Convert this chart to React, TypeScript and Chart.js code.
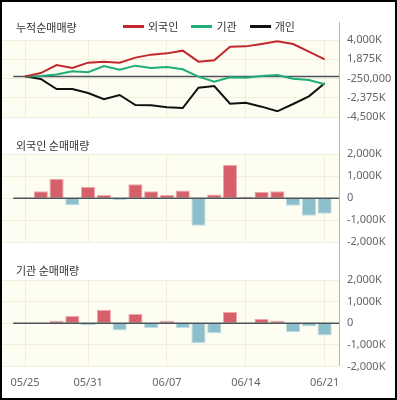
import React, { useEffect, useRef } from 'react';
import { Chart, registerables } from 'chart.js';

Chart.register(...registerables);

// ---------- data ----------
const dates = [
  '05/25', '05/26', '05/29', '05/30', '05/31', '06/01', '06/02', '06/05', '06/06', '06/07',
  '06/08', '06/09', '06/12', '06/13', '06/14', '06/15', '06/16', '06/19', '06/20', '06/21',
];
const tickDates = ['05/25', '05/31', '06/07', '06/14', '06/21'];

const seriesNames = ['외국인', '기관', '개인'];
const seriesColors = ['#c1272d', '#1fae78', '#111111'];

// cumulative net buying volume
const foreignCum = [
  0, 360000, 1250000, 920000, 1510000, 1620000, 1510000, 2060000, 2390000, 2530000,
  2830000, 1620000, 1770000, 3270000, 3300000, 3560000, 3850000, 3560000, 2720000, 1870000,
];
const instCum = [
  0, 50000, 200000, 570000, 460000, 1140000, 740000, 1180000, 920000, 1030000,
  780000, -30000, -580000, -100000, -140000, 40000, 150000, -250000, -400000, -870000,
];
const indivCum = [
  0, -290000, -1390000, -1390000, -1830000, -2520000, -2050000, -3150000, -3180000, -3400000,
  -3480000, -1240000, -1060000, -3000000, -2890000, -3330000, -3840000, -3040000, -2190000, -760000,
];

// daily net buying volume
const foreignNet = [
  0, 320000, 890000, -320000, 520000, 140000, -90000, 630000, 320000, 140000,
  350000, -1260000, 170000, 1510000, 60000, 290000, 320000, -350000, -800000, -710000,
];
const instNet = [
  0, 30000, 110000, 340000, -90000, 620000, -340000, 430000, -230000, 110000,
  -220000, -920000, -460000, 520000, 0, 200000, 110000, -400000, -150000, -570000,
];

const cumTicks = [4000000, 1875000, -250000, -2375000, -4500000];
const netTicks = [2000000, 1000000, 0, -1000000, -2000000];

const panelTitles = ['누적순매매량', '외국인 순매매량', '기관 순매매량'];

// ---------- styles ----------
const BG = '#fdfdf2';
const GRID = '#efefdc';
const ZERO = '#4d555a';
const POS_FILL = '#d6606a';
const POS_BORDER = '#f0a6ab';
const NEG_FILL = '#8dbfca';
const NEG_BORDER = '#bcdde4';
const TICK_COLOR = '#666';
const TICK_FONT = { family: '"Noto Sans", "Noto Sans CJK KR", sans-serif', size: 11 };
const KFONT = '"Noto Sans CJK KR", "Noto Sans", sans-serif';

const X_MIN = -1.46;
const X_MAX = 19.91;

const fmt = (v: number) =>
  Math.abs(v) >= 1000000
    ? (v / 1000).toLocaleString('en-US') + 'K'
    : v.toLocaleString('en-US');

function drawZero(chart: any) {
  const { ctx, chartArea: a, scales } = chart;
  const y = scales.y.getPixelForValue(0);
  const x0 = scales.x.getPixelForValue(-0.75);
  ctx.save();
  ctx.strokeStyle = ZERO;
  ctx.lineWidth = 1.5;
  ctx.beginPath();
  ctx.moveTo(x0, y);
  ctx.lineTo(a.right, y);
  ctx.stroke();
  ctx.restore();
}

const panelPlugin = {
  id: 'panel',
  beforeDraw(chart: any) {
    const { ctx, chartArea: a } = chart;
    ctx.save();
    ctx.fillStyle = BG;
    ctx.fillRect(a.left, a.top, a.right - a.left, a.bottom - a.top);
    ctx.restore();
  },
  beforeDatasetsDraw(chart: any, _args: any, opts: any) {
    if (!opts.zeroAbove) drawZero(chart);
  },
  afterDatasetsDraw(chart: any, _args: any, opts: any) {
    if (opts.zeroAbove) drawZero(chart);
  },
};

function makeOptions(yTicks: number[], showX: boolean, padTop: number, padBottom: number, zeroAbove: boolean) {
  const tickIdx = tickDates.map((d) => dates.indexOf(d));
  return {
    responsive: false,
    animation: false,
    devicePixelRatio: 1,
    layout: { padding: { left: 2, right: 0, top: padTop, bottom: padBottom } },
    plugins: {
      legend: { display: false },
      tooltip: { enabled: false },
      panel: { zeroAbove },
    },
    scales: {
      x: {
        type: 'linear',
        offset: false,
        min: X_MIN,
        max: X_MAX,
        grid: { color: GRID, drawTicks: false, offset: false },
        border: { display: false },
        afterBuildTicks: (s: any) => {
          s.ticks = tickIdx.map((v) => ({ value: v }));
        },
        ticks: {
          display: showX,
          padding: 10,
          color: TICK_COLOR,
          font: TICK_FONT,
          maxRotation: 0,
          autoSkip: false,
          callback: (v: any) => dates[v] ?? '',
        },
        afterFit: (s: any) => {
          s.height = showX ? 33.5 : 0;
          s.paddingLeft = 0;
          s.paddingRight = 0;
        },
      },
      y: {
        position: 'right',
        min: Math.min(...yTicks),
        max: Math.max(...yTicks),
        afterBuildTicks: (s: any) => {
          s.ticks = yTicks.map((v) => ({ value: v }));
        },
        grid: { color: GRID, drawTicks: false },
        border: { display: false },
        ticks: {
          padding: 8,
          color: TICK_COLOR,
          font: TICK_FONT,
          callback: (v: any) => fmt(Number(v)),
        },
        afterFit: (s: any) => {
          s.width = 58;
          s.paddingTop = 0;
          s.paddingBottom = 0;
        },
      },
    },
  } as any;
}

function barDataset(values: number[]) {
  return {
    data: values.map((v, i) => ({ x: i, y: v })),
    backgroundColor: values.map((v) => (v >= 0 ? POS_FILL : NEG_FILL)),
    borderColor: values.map((v) => (v >= 0 ? POS_BORDER : NEG_BORDER)),
    borderWidth: 1,
    borderSkipped: 'start',
    barPercentage: 0.9,
    categoryPercentage: 1,
  };
}

export default function App() {
  const c1 = useRef<HTMLCanvasElement>(null);
  const c2 = useRef<HTMLCanvasElement>(null);
  const c3 = useRef<HTMLCanvasElement>(null);

  useEffect(() => {
    const cumSeries = [foreignCum, instCum, indivCum];
    const chart1 = new Chart(c1.current as HTMLCanvasElement, {
      type: 'line',
      data: {
        datasets: cumSeries.map((vals, k) => ({
          label: seriesNames[k],
          data: vals.map((v, i) => ({ x: i, y: v })),
          borderColor: seriesColors[k],
          backgroundColor: seriesColors[k],
          borderWidth: 2,
          pointRadius: 0,
          tension: 0,
          fill: false,
        })),
      },
      options: makeOptions(cumTicks, false, 10, 12.7, false),
      plugins: [panelPlugin],
    } as any);

    const chart2 = new Chart(c2.current as HTMLCanvasElement, {
      type: 'bar',
      data: { datasets: [barDataset(foreignNet)] },
      options: makeOptions(netTicks, false, 14.3, 13, true),
      plugins: [panelPlugin],
    } as any);

    const chart3 = new Chart(c3.current as HTMLCanvasElement, {
      type: 'bar',
      data: { datasets: [barDataset(instNet)] },
      options: makeOptions(netTicks, true, 15, 0, true),
      plugins: [panelPlugin],
    } as any);

    return () => {
      chart1.destroy();
      chart2.destroy();
      chart3.destroy();
    };
  }, []);

  const titleStyle = (top: number): React.CSSProperties => ({
    position: 'absolute',
    left: 16,
    top,
    fontFamily: KFONT,
    fontSize: 11,
    lineHeight: '14px',
    color: '#333',
    whiteSpace: 'nowrap',
  });

  return (
    <div
      style={{
        position: 'absolute',
        left: 0,
        top: 0,
        width: 397,
        height: 400,
        background: '#fff',
        overflow: 'hidden',
      }}
    >
      <canvas ref={c1} width={397} height={100} style={{ position: 'absolute', left: 0, top: 30, width: 397, height: 100 }} />
      <canvas ref={c2} width={397} height={115} style={{ position: 'absolute', left: 0, top: 140, width: 397, height: 115 }} />
      <canvas ref={c3} width={397} height={135} style={{ position: 'absolute', left: 0, top: 265, width: 397, height: 135 }} />

      <div style={titleStyle(20)}>{panelTitles[0]}</div>
      <div style={titleStyle(138)}>{panelTitles[1]}</div>
      <div style={titleStyle(263)}>{panelTitles[2]}</div>

      <div
        style={{
          position: 'absolute',
          left: 123,
          top: 19,
          display: 'flex',
          alignItems: 'center',
          gap: 13,
          fontFamily: KFONT,
          fontSize: 11,
          lineHeight: '14px',
          color: '#333',
        }}
      >
        {seriesNames.map((n, k) => (
          <div key={n} style={{ display: 'flex', alignItems: 'center' }}>
            <span style={{ display: 'inline-block', width: 21, height: 3, background: seriesColors[k], marginRight: 4 }} />
            <span>{n}</span>
          </div>
        ))}
      </div>

      <div style={{ position: 'absolute', left: 339, top: 22, width: 1, height: 344, background: '#b8b8b8' }} />

      <div
        style={{
          position: 'absolute',
          left: 0,
          top: 0,
          width: 397,
          height: 400,
          border: '2px solid #000',
          boxSizing: 'border-box',
          pointerEvents: 'none',
        }}
      />
    </div>
  );
}
